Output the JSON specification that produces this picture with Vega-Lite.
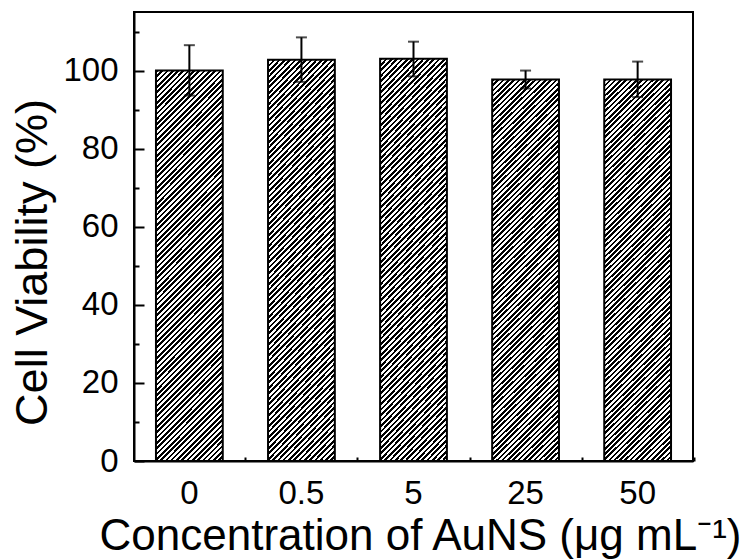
{
"$schema": "https://vega.github.io/schema/vega-lite/v6.json",
"width": 559, "height": 449,
"autosize": "none",
"padding": {"left": 134, "top": 12, "right": 62, "bottom": 99},
"background": "white",
"config": {
 "view": {"stroke": "black", "strokeWidth": 2},
 "axis": {"domainColor": "black", "domainWidth": 2, "tickColor": "black", "tickWidth": 2, "labelColor": "black", "titleColor": "black", "labelFont": "Liberation Sans", "titleFont": "Liberation Sans", "labelFontSize": 33, "titleFontSize": 44, "titleFontWeight": "normal", "grid": false}
},
"data": {"values": [
 {"conc": "0", "viability": 100.0, "lo": 93.6, "hi": 106.5},
 {"conc": "0.5", "viability": 102.8, "lo": 97.1, "hi": 108.5},
 {"conc": "5", "viability": 103.0, "lo": 98.5, "hi": 107.4},
 {"conc": "25", "viability": 97.7, "lo": 95.4, "hi": 100.0},
 {"conc": "50", "viability": 97.7, "lo": 93.2, "hi": 102.3}
]},
"layer": [
 {"mark": {"type": "bar", "stroke": "black", "strokeWidth": 2,
   "fill": {"gradient": "linear", "x1": 0, "y1": 0, "x2": 0.2272, "y2": 1.322, "stops": [
{"offset":0,"color":"#000"},{"offset":0.005,"color":"#000"},{"offset":0.005,"color":"#fff"},{"offset":0.01,"color":"#fff"},
{"offset":0.01,"color":"#000"},{"offset":0.015,"color":"#000"},{"offset":0.015,"color":"#fff"},{"offset":0.02,"color":"#fff"},
{"offset":0.02,"color":"#000"},{"offset":0.025,"color":"#000"},{"offset":0.025,"color":"#fff"},{"offset":0.03,"color":"#fff"},
{"offset":0.03,"color":"#000"},{"offset":0.035,"color":"#000"},{"offset":0.035,"color":"#fff"},{"offset":0.04,"color":"#fff"},
{"offset":0.04,"color":"#000"},{"offset":0.045,"color":"#000"},{"offset":0.045,"color":"#fff"},{"offset":0.05,"color":"#fff"},
{"offset":0.05,"color":"#000"},{"offset":0.055,"color":"#000"},{"offset":0.055,"color":"#fff"},{"offset":0.06,"color":"#fff"},
{"offset":0.06,"color":"#000"},{"offset":0.065,"color":"#000"},{"offset":0.065,"color":"#fff"},{"offset":0.07,"color":"#fff"},
{"offset":0.07,"color":"#000"},{"offset":0.075,"color":"#000"},{"offset":0.075,"color":"#fff"},{"offset":0.08,"color":"#fff"},
{"offset":0.08,"color":"#000"},{"offset":0.085,"color":"#000"},{"offset":0.085,"color":"#fff"},{"offset":0.09,"color":"#fff"},
{"offset":0.09,"color":"#000"},{"offset":0.095,"color":"#000"},{"offset":0.095,"color":"#fff"},{"offset":0.1,"color":"#fff"},
{"offset":0.1,"color":"#000"},{"offset":0.105,"color":"#000"},{"offset":0.105,"color":"#fff"},{"offset":0.11,"color":"#fff"},
{"offset":0.11,"color":"#000"},{"offset":0.115,"color":"#000"},{"offset":0.115,"color":"#fff"},{"offset":0.12,"color":"#fff"},
{"offset":0.12,"color":"#000"},{"offset":0.125,"color":"#000"},{"offset":0.125,"color":"#fff"},{"offset":0.13,"color":"#fff"},
{"offset":0.13,"color":"#000"},{"offset":0.135,"color":"#000"},{"offset":0.135,"color":"#fff"},{"offset":0.14,"color":"#fff"},
{"offset":0.14,"color":"#000"},{"offset":0.145,"color":"#000"},{"offset":0.145,"color":"#fff"},{"offset":0.15,"color":"#fff"},
{"offset":0.15,"color":"#000"},{"offset":0.155,"color":"#000"},{"offset":0.155,"color":"#fff"},{"offset":0.16,"color":"#fff"},
{"offset":0.16,"color":"#000"},{"offset":0.165,"color":"#000"},{"offset":0.165,"color":"#fff"},{"offset":0.17,"color":"#fff"},
{"offset":0.17,"color":"#000"},{"offset":0.175,"color":"#000"},{"offset":0.175,"color":"#fff"},{"offset":0.18,"color":"#fff"},
{"offset":0.18,"color":"#000"},{"offset":0.185,"color":"#000"},{"offset":0.185,"color":"#fff"},{"offset":0.19,"color":"#fff"},
{"offset":0.19,"color":"#000"},{"offset":0.195,"color":"#000"},{"offset":0.195,"color":"#fff"},{"offset":0.2,"color":"#fff"},
{"offset":0.2,"color":"#000"},{"offset":0.205,"color":"#000"},{"offset":0.205,"color":"#fff"},{"offset":0.21,"color":"#fff"},
{"offset":0.21,"color":"#000"},{"offset":0.215,"color":"#000"},{"offset":0.215,"color":"#fff"},{"offset":0.22,"color":"#fff"},
{"offset":0.22,"color":"#000"},{"offset":0.225,"color":"#000"},{"offset":0.225,"color":"#fff"},{"offset":0.23,"color":"#fff"},
{"offset":0.23,"color":"#000"},{"offset":0.235,"color":"#000"},{"offset":0.235,"color":"#fff"},{"offset":0.24,"color":"#fff"},
{"offset":0.24,"color":"#000"},{"offset":0.245,"color":"#000"},{"offset":0.245,"color":"#fff"},{"offset":0.25,"color":"#fff"},
{"offset":0.25,"color":"#000"},{"offset":0.255,"color":"#000"},{"offset":0.255,"color":"#fff"},{"offset":0.26,"color":"#fff"},
{"offset":0.26,"color":"#000"},{"offset":0.265,"color":"#000"},{"offset":0.265,"color":"#fff"},{"offset":0.27,"color":"#fff"},
{"offset":0.27,"color":"#000"},{"offset":0.275,"color":"#000"},{"offset":0.275,"color":"#fff"},{"offset":0.28,"color":"#fff"},
{"offset":0.28,"color":"#000"},{"offset":0.285,"color":"#000"},{"offset":0.285,"color":"#fff"},{"offset":0.29,"color":"#fff"},
{"offset":0.29,"color":"#000"},{"offset":0.295,"color":"#000"},{"offset":0.295,"color":"#fff"},{"offset":0.3,"color":"#fff"},
{"offset":0.3,"color":"#000"},{"offset":0.305,"color":"#000"},{"offset":0.305,"color":"#fff"},{"offset":0.31,"color":"#fff"},
{"offset":0.31,"color":"#000"},{"offset":0.315,"color":"#000"},{"offset":0.315,"color":"#fff"},{"offset":0.32,"color":"#fff"},
{"offset":0.32,"color":"#000"},{"offset":0.325,"color":"#000"},{"offset":0.325,"color":"#fff"},{"offset":0.33,"color":"#fff"},
{"offset":0.33,"color":"#000"},{"offset":0.335,"color":"#000"},{"offset":0.335,"color":"#fff"},{"offset":0.34,"color":"#fff"},
{"offset":0.34,"color":"#000"},{"offset":0.345,"color":"#000"},{"offset":0.345,"color":"#fff"},{"offset":0.35,"color":"#fff"},
{"offset":0.35,"color":"#000"},{"offset":0.355,"color":"#000"},{"offset":0.355,"color":"#fff"},{"offset":0.36,"color":"#fff"},
{"offset":0.36,"color":"#000"},{"offset":0.365,"color":"#000"},{"offset":0.365,"color":"#fff"},{"offset":0.37,"color":"#fff"},
{"offset":0.37,"color":"#000"},{"offset":0.375,"color":"#000"},{"offset":0.375,"color":"#fff"},{"offset":0.38,"color":"#fff"},
{"offset":0.38,"color":"#000"},{"offset":0.385,"color":"#000"},{"offset":0.385,"color":"#fff"},{"offset":0.39,"color":"#fff"},
{"offset":0.39,"color":"#000"},{"offset":0.395,"color":"#000"},{"offset":0.395,"color":"#fff"},{"offset":0.4,"color":"#fff"},
{"offset":0.4,"color":"#000"},{"offset":0.405,"color":"#000"},{"offset":0.405,"color":"#fff"},{"offset":0.41,"color":"#fff"},
{"offset":0.41,"color":"#000"},{"offset":0.415,"color":"#000"},{"offset":0.415,"color":"#fff"},{"offset":0.42,"color":"#fff"},
{"offset":0.42,"color":"#000"},{"offset":0.425,"color":"#000"},{"offset":0.425,"color":"#fff"},{"offset":0.43,"color":"#fff"},
{"offset":0.43,"color":"#000"},{"offset":0.435,"color":"#000"},{"offset":0.435,"color":"#fff"},{"offset":0.44,"color":"#fff"},
{"offset":0.44,"color":"#000"},{"offset":0.445,"color":"#000"},{"offset":0.445,"color":"#fff"},{"offset":0.45,"color":"#fff"},
{"offset":0.45,"color":"#000"},{"offset":0.455,"color":"#000"},{"offset":0.455,"color":"#fff"},{"offset":0.46,"color":"#fff"},
{"offset":0.46,"color":"#000"},{"offset":0.465,"color":"#000"},{"offset":0.465,"color":"#fff"},{"offset":0.47,"color":"#fff"},
{"offset":0.47,"color":"#000"},{"offset":0.475,"color":"#000"},{"offset":0.475,"color":"#fff"},{"offset":0.48,"color":"#fff"},
{"offset":0.48,"color":"#000"},{"offset":0.485,"color":"#000"},{"offset":0.485,"color":"#fff"},{"offset":0.49,"color":"#fff"},
{"offset":0.49,"color":"#000"},{"offset":0.495,"color":"#000"},{"offset":0.495,"color":"#fff"},{"offset":0.5,"color":"#fff"},
{"offset":0.5,"color":"#000"},{"offset":0.505,"color":"#000"},{"offset":0.505,"color":"#fff"},{"offset":0.51,"color":"#fff"},
{"offset":0.51,"color":"#000"},{"offset":0.515,"color":"#000"},{"offset":0.515,"color":"#fff"},{"offset":0.52,"color":"#fff"},
{"offset":0.52,"color":"#000"},{"offset":0.525,"color":"#000"},{"offset":0.525,"color":"#fff"},{"offset":0.53,"color":"#fff"},
{"offset":0.53,"color":"#000"},{"offset":0.535,"color":"#000"},{"offset":0.535,"color":"#fff"},{"offset":0.54,"color":"#fff"},
{"offset":0.54,"color":"#000"},{"offset":0.545,"color":"#000"},{"offset":0.545,"color":"#fff"},{"offset":0.55,"color":"#fff"},
{"offset":0.55,"color":"#000"},{"offset":0.555,"color":"#000"},{"offset":0.555,"color":"#fff"},{"offset":0.56,"color":"#fff"},
{"offset":0.56,"color":"#000"},{"offset":0.565,"color":"#000"},{"offset":0.565,"color":"#fff"},{"offset":0.57,"color":"#fff"},
{"offset":0.57,"color":"#000"},{"offset":0.575,"color":"#000"},{"offset":0.575,"color":"#fff"},{"offset":0.58,"color":"#fff"},
{"offset":0.58,"color":"#000"},{"offset":0.585,"color":"#000"},{"offset":0.585,"color":"#fff"},{"offset":0.59,"color":"#fff"},
{"offset":0.59,"color":"#000"},{"offset":0.595,"color":"#000"},{"offset":0.595,"color":"#fff"},{"offset":0.6,"color":"#fff"},
{"offset":0.6,"color":"#000"},{"offset":0.605,"color":"#000"},{"offset":0.605,"color":"#fff"},{"offset":0.61,"color":"#fff"},
{"offset":0.61,"color":"#000"},{"offset":0.615,"color":"#000"},{"offset":0.615,"color":"#fff"},{"offset":0.62,"color":"#fff"},
{"offset":0.62,"color":"#000"},{"offset":0.625,"color":"#000"},{"offset":0.625,"color":"#fff"},{"offset":0.63,"color":"#fff"},
{"offset":0.63,"color":"#000"},{"offset":0.635,"color":"#000"},{"offset":0.635,"color":"#fff"},{"offset":0.64,"color":"#fff"},
{"offset":0.64,"color":"#000"},{"offset":0.645,"color":"#000"},{"offset":0.645,"color":"#fff"},{"offset":0.65,"color":"#fff"},
{"offset":0.65,"color":"#000"},{"offset":0.655,"color":"#000"},{"offset":0.655,"color":"#fff"},{"offset":0.66,"color":"#fff"},
{"offset":0.66,"color":"#000"},{"offset":0.665,"color":"#000"},{"offset":0.665,"color":"#fff"},{"offset":0.67,"color":"#fff"},
{"offset":0.67,"color":"#000"},{"offset":0.675,"color":"#000"},{"offset":0.675,"color":"#fff"},{"offset":0.68,"color":"#fff"},
{"offset":0.68,"color":"#000"},{"offset":0.685,"color":"#000"},{"offset":0.685,"color":"#fff"},{"offset":0.69,"color":"#fff"},
{"offset":0.69,"color":"#000"},{"offset":0.695,"color":"#000"},{"offset":0.695,"color":"#fff"},{"offset":0.7,"color":"#fff"},
{"offset":0.7,"color":"#000"},{"offset":0.705,"color":"#000"},{"offset":0.705,"color":"#fff"},{"offset":0.71,"color":"#fff"},
{"offset":0.71,"color":"#000"},{"offset":0.715,"color":"#000"},{"offset":0.715,"color":"#fff"},{"offset":0.72,"color":"#fff"},
{"offset":0.72,"color":"#000"},{"offset":0.725,"color":"#000"},{"offset":0.725,"color":"#fff"},{"offset":0.73,"color":"#fff"},
{"offset":0.73,"color":"#000"},{"offset":0.735,"color":"#000"},{"offset":0.735,"color":"#fff"},{"offset":0.74,"color":"#fff"},
{"offset":0.74,"color":"#000"},{"offset":0.745,"color":"#000"},{"offset":0.745,"color":"#fff"},{"offset":0.75,"color":"#fff"},
{"offset":0.75,"color":"#000"},{"offset":0.755,"color":"#000"},{"offset":0.755,"color":"#fff"},{"offset":0.76,"color":"#fff"},
{"offset":0.76,"color":"#000"},{"offset":0.765,"color":"#000"},{"offset":0.765,"color":"#fff"},{"offset":0.77,"color":"#fff"},
{"offset":0.77,"color":"#000"},{"offset":0.775,"color":"#000"},{"offset":0.775,"color":"#fff"},{"offset":0.78,"color":"#fff"},
{"offset":0.78,"color":"#000"},{"offset":0.785,"color":"#000"},{"offset":0.785,"color":"#fff"},{"offset":0.79,"color":"#fff"},
{"offset":0.79,"color":"#000"},{"offset":0.795,"color":"#000"},{"offset":0.795,"color":"#fff"},{"offset":0.8,"color":"#fff"},
{"offset":0.8,"color":"#000"},{"offset":0.805,"color":"#000"},{"offset":0.805,"color":"#fff"},{"offset":0.81,"color":"#fff"},
{"offset":0.81,"color":"#000"},{"offset":0.815,"color":"#000"},{"offset":0.815,"color":"#fff"},{"offset":0.82,"color":"#fff"},
{"offset":0.82,"color":"#000"},{"offset":0.825,"color":"#000"},{"offset":0.825,"color":"#fff"},{"offset":0.83,"color":"#fff"},
{"offset":0.83,"color":"#000"},{"offset":0.835,"color":"#000"},{"offset":0.835,"color":"#fff"},{"offset":0.84,"color":"#fff"},
{"offset":0.84,"color":"#000"},{"offset":0.845,"color":"#000"},{"offset":0.845,"color":"#fff"},{"offset":0.85,"color":"#fff"},
{"offset":0.85,"color":"#000"},{"offset":0.855,"color":"#000"},{"offset":0.855,"color":"#fff"},{"offset":0.86,"color":"#fff"},
{"offset":0.86,"color":"#000"},{"offset":0.865,"color":"#000"},{"offset":0.865,"color":"#fff"},{"offset":0.87,"color":"#fff"}
   ]}},
  "encoding": {
   "x": {"field": "conc", "type": "nominal", "sort": null,
     "scale": {"paddingInner": 0.404, "paddingOuter": 0.196},
     "axis": {"title": "Concentration of AuNS (μg mL⁻¹)", "labelAngle": 0, "tickSize": -8, "labelPadding": 24, "titleX": 286, "titleY": 53, "orient": "bottom"}},
   "y": {"field": "viability", "type": "quantitative",
     "scale": {"domain": [0, 115], "nice": false, "zero": true},
     "axis": {"values": [0, 20, 40, 60, 80, 100], "tickSize": -10, "labelPadding": 26, "title": "Cell Viability (%)", "titleFontSize": 45, "titleX": -79, "titleY": 250, "orient": "left"}}
  }},
 {"mark": {"type": "rule", "color": "black", "strokeWidth": 2},
  "encoding": {
   "x": {"field": "conc", "type": "nominal", "sort": null,
     "axis": {"tickOffset": 56, "tickSize": -4, "labels": false, "domain": false, "title": null, "orient": "bottom"}},
   "y": {"field": "lo", "type": "quantitative",
     "axis": {"values": [10, 30, 50, 70, 90, 110], "tickSize": -5, "labels": false, "domain": false, "title": null, "orient": "left"}},
   "y2": {"field": "hi"}
  }},
 {"mark": {"type": "tick", "color": "black", "thickness": 2, "size": 11},
  "encoding": {
   "x": {"field": "conc", "type": "nominal", "sort": null, "axis": null},
   "y": {"field": "lo", "type": "quantitative", "axis": null}
  }},
 {"mark": {"type": "tick", "color": "black", "thickness": 2, "size": 11},
  "encoding": {
   "x": {"field": "conc", "type": "nominal", "sort": null, "axis": null},
   "y": {"field": "hi", "type": "quantitative", "axis": null}
  }}
],
"resolve": {"axis": {"x": "independent", "y": "independent"}}
}
